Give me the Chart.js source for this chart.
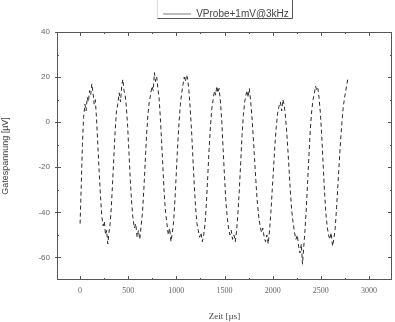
<!DOCTYPE html>
<html>
<head>
<meta charset="utf-8">
<script src="https://cdn.jsdelivr.net/npm/chart.js@4"></script>
<style>
html,body{margin:0;padding:0;background:#fff;}
#wrap{width:395px;height:322px;}
</style>
</head>
<body>
<div id="wrap"><canvas id="c" width="395" height="322"></canvas></div>
<script>
const seriesName = 'VProbe+1mV@3kHz';
const xTitle = 'Zeit [µs]';
const yTitle = 'Gatespannung [µV]';
const xTicks = [0, 500, 1000, 1500, 2000, 2500, 3000];
const yTicks = [-60, -40, -20, 0, 20, 40];
const xRange = [-240, 3240];
const yRange = [-70, 40];

const timeUs = [
  0,12,24,36,50,62,74,86,98,110,122,134,146,158,170,184,198,212,226,240,252,264,276,288,300,312,324,
  336,350,364,378,392,406,420,432,444,456,468,480,494,508,522,536,550,564,578,592,606,620,634,648,
  662,676,690,704,718,732,746,760,772,784,796,808,820,832,846,860,874,888,902,916,930,944,958,972,
  986,1000,1014,1028,1042,1056,1070,1082,1094,1106,1118,1130,1144,1158,1172,1186,1200,1214,1228,1242,1256,1270,1284,1298,
  1312,1326,1340,1354,1368,1382,1396,1408,1420,1432,1444,1458,1472,1486,1500,1514,1528,1542,1556,1570,1584,1598,1612,1626,1640,
  1654,1668,1682,1696,1710,1722,1734,1746,1758,1770,1784,1798,1812,1826,1840,1856,1870,1884,1898,1912,1926,1940,1954,1968,1982,
  1996,2010,2024,2038,2052,2066,2080,2094,2106,2118,2130,2144,2158,2172,2186,2200,2214,2228,2242,2256,2270,2284,2298,2310,2322,2336,
  2350,2364,2378,2392,2406,2420,2434,2446,2458,2470,2482,2496,2510,2524,2538,2552,2566,2580,2594,2608,2622,2636,2650,
  2664,2678,2692,2706,2720,2734,2748,2760,2772,2784
];
const gateUv = [
  -45,-28,-10,2,8,5,11,9,14,12,17,13,8,10,2,-10,-22,-33,-42,-46,-44,-50,-48,-54,-49,-45,-38,
  -28,-16,-4,5,8,13,9,16,19,14,12,7,-2,-14,-26,-36,-43,-47,-45,-51,-48,-52,-46,-40,
  -30,-18,-6,3,9,12,16,14,22,18,20,15,11,3,-8,-20,-32,-40,-45,-50,-47,-53,-49,-44,
  -34,-22,-10,0,8,13,17,20,18,21,19,14,6,-4,-16,-28,-38,-45,-48,-51,-49,-53,-50,-45,
  -36,-24,-12,-2,6,10,14,12,16,13,15,9,0,-12,-24,-35,-42,-47,-50,-48,-52,-50,-53,-48,-40,
  -30,-18,-6,3,9,12,14,11,15,10,3,-6,-16,-26,-35,-42,-46,-49,-47,-51,-53,-50,-54,-48,-40,
  -30,-20,-10,-2,4,7,9,5,10,8,4,-3,-12,-22,-32,-40,-45,-49,-52,-50,-55,-58,-54,-63,-56,-48,
  -38,-26,-14,-3,5,10,13,16,14,15,11,4,-6,-18,-30,-40,-46,-50,-52,-49,-55,-52,-47,
  -38,-28,-18,-8,0,7,11,14,17,20
];

const points = timeUs.map((t, i) => ({ x: t, y: gateUv[i] }));

const legendShift = { dx: 30, dy: -3 };

const framePlugin = {
  id: 'frame',
  afterLayout(chart) {
    const lg = chart.legend;
    if (!lg) return;
    lg.left += legendShift.dx; lg.right += legendShift.dx;
    lg.top += legendShift.dy; lg.bottom += legendShift.dy;
    (lg.legendHitBoxes || []).forEach(h => { h.left += legendShift.dx; h.top += legendShift.dy; });
  },
  afterDatasetsDraw(chart) {
    const { ctx, chartArea: a, scales: { x, y } } = chart;
    ctx.save();
    ctx.strokeStyle = '#555';
    ctx.lineWidth = 1;
    ctx.strokeRect(a.left + 0.5, a.top + 0.5, a.right - a.left - 1, a.bottom - a.top - 1);
    const line = (x1, y1, x2, y2) => { ctx.beginPath(); ctx.moveTo(x1, y1); ctx.lineTo(x2, y2); ctx.stroke(); };
    const step = xTicks[1] - xTicks[0];
    xTicks.forEach(v => {
      const p = Math.round(x.getPixelForValue(v)) + 0.5;
      line(p, a.bottom, p, a.bottom - 4); line(p, a.top, p, a.top + 4);
      [v - step / 2, v + step / 2].forEach(m => {
        if (m > xRange[0] && m < xRange[1]) {
          const q = Math.round(x.getPixelForValue(m)) + 0.5;
          line(q, a.bottom, q, a.bottom - 2); line(q, a.top, q, a.top + 2);
        }
      });
    });
    const ystep = yTicks[1] - yTicks[0];
    yTicks.forEach(v => {
      const p = Math.round(y.getPixelForValue(v)) + 0.5;
      line(a.left - 2, p, a.left + 4, p); line(a.right, p, a.right - 4, p);
      [v - ystep / 2, v + ystep / 2].forEach(m => {
        if (m > yRange[0] && m < yRange[1]) {
          const q = Math.round(y.getPixelForValue(m)) + 0.5;
          line(a.left, q, a.left + 2, q); line(a.right, q, a.right - 2, q);
        }
      });
    });
    ctx.restore();
  },
  afterDraw(chart) {
    const { ctx } = chart;
    const lg = chart.legend;
    if (lg && lg.legendHitBoxes && lg.legendHitBoxes.length) {
      const hb = lg.legendHitBoxes[0];
      const l = Math.round(hb.left) - 5.5, r = Math.round(hb.left + hb.width) + 3.5;
      const t = Math.round(hb.top) - 6.5, b = Math.round(hb.top + hb.height) + 2.5;
      ctx.save();
      ctx.lineWidth = 1;
      ctx.strokeStyle = '#ddd';
      ctx.beginPath(); ctx.moveTo(l, b); ctx.lineTo(l, t); ctx.lineTo(r, t); ctx.stroke();
      ctx.strokeStyle = '#555';
      ctx.beginPath(); ctx.moveTo(l, b); ctx.lineTo(r, b); ctx.lineTo(r, t - 2); ctx.stroke();
      ctx.restore();
    }
  }
};

new Chart(document.getElementById('c'), {
  type: 'scatter',
  data: {
    datasets: [{
      label: seriesName,
      data: points,
      showLine: true,
      borderColor: '#2a2a2a',
      backgroundColor: '#2a2a2a',
      borderWidth: 1,
      borderDash: [4, 3],
      pointRadius: 0,
      tension: 0
    }]
  },
  options: {
    responsive: false,
    animation: false,
    layout: { padding: { top: 6, right: 3, left: 0, bottom: 0 } },
    plugins: {
      tooltip: { enabled: false },
      legend: {
        display: true,
        position: 'top',
        labels: {
          usePointStyle: true,
          pointStyle: 'line',
          pointStyleWidth: 28,
          padding: 6,
          color: '#444',
          font: { family: 'Liberation Sans', size: 10 },
          generateLabels: (chart) => [{
            text: seriesName, strokeStyle: '#777', fillStyle: '#777', lineWidth: 1,
            pointStyle: 'line', hidden: false, datasetIndex: 0, fontColor: '#444'
          }]
        }
      }
    },
    scales: {
      x: {
        type: 'linear',
        min: xRange[0], max: xRange[1],
        grid: { display: false, drawTicks: false },
        border: { display: false },
        afterBuildTicks: s => { s.ticks = xTicks.map(v => ({ value: v })); },
        afterFit: s => { s.height = 42; },
        ticks: { padding: 6, color: '#666', font: { family: 'Liberation Serif', size: 8 }, maxRotation: 0, callback: v => String(v) },
        title: { display: true, text: xTitle, color: '#444', font: { family: 'Liberation Serif', size: 9 }, padding: { top: 6, bottom: 0 } }
      },
      y: {
        type: 'linear',
        min: yRange[0], max: yRange[1],
        grid: { display: false, drawTicks: false },
        border: { display: false },
        afterBuildTicks: s => { s.ticks = yTicks.map(v => ({ value: v })); },
        afterFit: s => { s.width = 57; },
        ticks: { padding: 7, color: '#666', font: { family: 'Liberation Sans', size: 8 }, callback: v => String(v) },
        title: { display: true, text: yTitle, color: '#444', font: { family: 'Liberation Sans', size: 9 }, padding: { top: 0, bottom: 12 } }
      }
    }
  },
  plugins: [framePlugin]
});
</script>
</body>
</html>
